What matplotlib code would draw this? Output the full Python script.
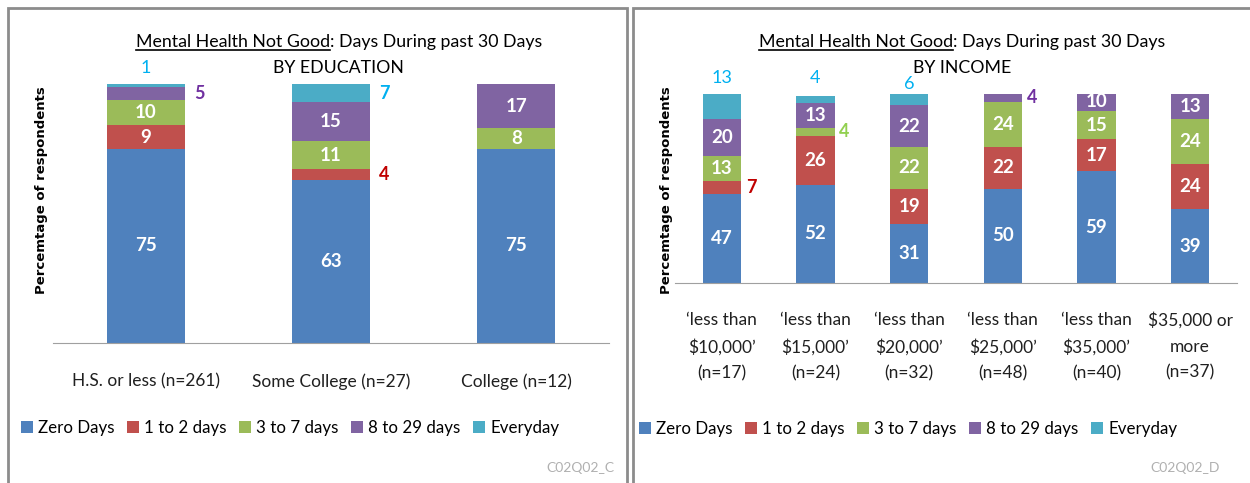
import numpy as np
import matplotlib.pyplot as plt
from matplotlib.patches import Rectangle

plt.rcParams['font.family'] = ['Lato', 'DejaVu Sans']

series = ["Zero Days", "1 to 2 days", "3 to 7 days", "8 to 29 days", "Everyday"]
bar_colors = ["#4F81BD", "#C0504D", "#9BBB59", "#8064A2", "#4BACC6"]
text_colors = ["#4F81BD", "#C00000", "#92D050", "#7030A0", "#00B0F0"]

edu_labels = ["H.S. or less (n=261)", "Some College (n=27)", "College (n=12)"]
edu_zero = [75, 63, 75]
edu_1to2 = [9, 4, 0]
edu_3to7 = [10, 11, 8]
edu_8to29 = [5, 15, 17]
edu_every = [1, 7, 0]

inc_labels = ["\u2018less than\n$10,000\u2019\n(n=17)", "\u2018less than\n$15,000\u2019\n(n=24)",
              "\u2018less than\n$20,000\u2019\n(n=32)", "\u2018less than\n$25,000\u2019\n(n=48)",
              "\u2018less than\n$35,000\u2019\n(n=40)", "$35,000 or\nmore\n(n=37)"]
inc_zero = [47, 52, 31, 50, 59, 39]
inc_1to2 = [7, 26, 19, 22, 17, 24]
inc_3to7 = [13, 4, 22, 24, 15, 24]
inc_8to29 = [20, 13, 22, 4, 10, 13]
inc_every = [13, 4, 6, 0, 0, 0]

# labels drawn outside the bar: (category index, series index, placement)
edu_outside = [(0, 4, "top"), (0, 3, "right"), (1, 4, "right"), (1, 1, "right")]
inc_outside = [(0, 4, "top"), (0, 1, "right"), (1, 4, "top"), (1, 2, "right"),
               (2, 4, "top"), (3, 3, "right")]


def draw_panel(ax, labels, data, outside, width, top_pad):
    x = np.arange(len(labels))
    data = np.array(data, dtype=float)
    bottom = np.zeros(len(labels))
    out_map = {(c, s): p for c, s, p in outside}
    for s, vals in enumerate(data):
        ax.bar(x, vals, width, bottom=bottom, color=bar_colors[s], label=series[s])
        for c, v in enumerate(vals):
            if v <= 0:
                continue
            if (c, s) in out_map:
                if out_map[(c, s)] == "top":
                    ax.text(x[c], 100 + top_pad[c], f"{int(v)}", ha="center", va="bottom",
                            color=text_colors[s], fontsize=13)
                else:
                    ax.text(x[c] + width / 2 + 0.05, bottom[c] + v / 2, f"{int(v)}",
                            ha="left", va="center", color=text_colors[s],
                            fontsize=13, fontweight="bold")
            else:
                ax.text(x[c], bottom[c] + v / 2, f"{int(v)}", ha="center", va="center",
                        color="white", fontsize=13.5, fontweight="bold")
        bottom += vals
    ax.set_xlim(-0.5, len(labels) - 0.5)
    ax.set_ylim(0, 100)
    ax.set_yticks([])
    ax.set_xticks(x)
    ax.set_xticklabels(labels, fontsize=12.5, linespacing=1.75, color="#202020")
    ax.tick_params(axis="x", length=0, pad=21)
    for sp in ["top", "right", "left"]:
        ax.spines[sp].set_visible(False)
    ax.spines["bottom"].set_color("#A0A0A0")


fig = plt.figure(figsize=(12.5, 4.83), dpi=100)

# panel borders
fig.patches.append(Rectangle((8 / 1250, -0.01), 619 / 1250, 1 - 8 / 483 + 0.01,
                             transform=fig.transFigure, fill=False,
                             edgecolor="#8C8C8C", linewidth=2))
fig.patches.append(Rectangle((633 / 1250, -0.01), 0.6, 1 - 8 / 483 + 0.01,
                             transform=fig.transFigure, fill=False,
                             edgecolor="#8C8C8C", linewidth=2))

ax1 = fig.add_axes([53 / 1250, 1 - 343 / 483, 556 / 1250, 259 / 483])
draw_panel(ax1, edu_labels,
           [edu_zero, edu_1to2, edu_3to7, edu_8to29, edu_every],
           edu_outside, 0.42, [3, 0, 0])
ax1.tick_params(axis="x", pad=22)

ax2 = fig.add_axes([675 / 1250, 1 - 283 / 483, 562 / 1250, 189 / 483])
draw_panel(ax2, inc_labels,
           [inc_zero, inc_1to2, inc_3to7, inc_8to29, inc_every],
           inc_outside, 0.41, [4, 4, 1, 0, 0, 0])

fig.canvas.draw()
renderer = fig.canvas.get_renderer()
inv = fig.transFigure.inverted()

# titles: underlined first part, centred as a whole
for cx, sub_x, sub in [(339, 338, "BY EDUCATION"), (962, 962, "BY INCOME")]:
    t1 = fig.text(0, 1 - 42 / 483, "Mental Health Not Good", ha="left",
                  va="center", fontsize=12.8)
    t2 = fig.text(0, 1 - 42 / 483, ": Days During past 30 Days", ha="left",
                  va="center", fontsize=12.8)
    w1 = t1.get_window_extent(renderer).width
    w2 = t2.get_window_extent(renderer).width
    x0 = cx - (w1 + w2) / 2
    t1.set_x(x0 / 1250)
    t2.set_x((x0 + w1) / 1250)
    bb = t1.get_window_extent(renderer).transformed(inv)
    fig.add_artist(plt.Line2D([x0 / 1250, (x0 + w1) / 1250], [bb.y0, bb.y0],
                              transform=fig.transFigure, color="black", linewidth=1.2))
    fig.text(sub_x / 1250, 1 - 68 / 483, sub, ha="center", va="center", fontsize=12.8)

fig.text(42 / 1250, 1 - 190 / 483, "Percemtage of respondents", rotation=90,
         ha="center", va="center", fontsize=9.5, fontweight="bold",
         family=["DejaVu Sans"])
fig.text(666 / 1250, 1 - 190 / 483, "Percemtage of respondents", rotation=90,
         ha="center", va="center", fontsize=9.5, fontweight="bold",
         family=["DejaVu Sans"])

leg_kw = dict(loc="center", ncol=5, frameon=False, fontsize=12.2, handlelength=0.7,
              handleheight=0.7, handletextpad=0.3, columnspacing=0.75)
fig.legend(*ax1.get_legend_handles_labels(), bbox_to_anchor=(290 / 1250, 1 - 428 / 483),
           **leg_kw)
fig.legend(*ax2.get_legend_handles_labels(), bbox_to_anchor=(908 / 1250, 1 - 429 / 483),
           **leg_kw)

fig.text(580 / 1250, 1 - 468 / 483, "C02Q02_C", ha="center", va="center",
         fontsize=10, color="#B0B0B0")
fig.text(1185 / 1250, 1 - 468 / 483, "C02Q02_D", ha="center", va="center",
         fontsize=10, color="#B0B0B0")

fig.savefig("out.png", dpi=100)
